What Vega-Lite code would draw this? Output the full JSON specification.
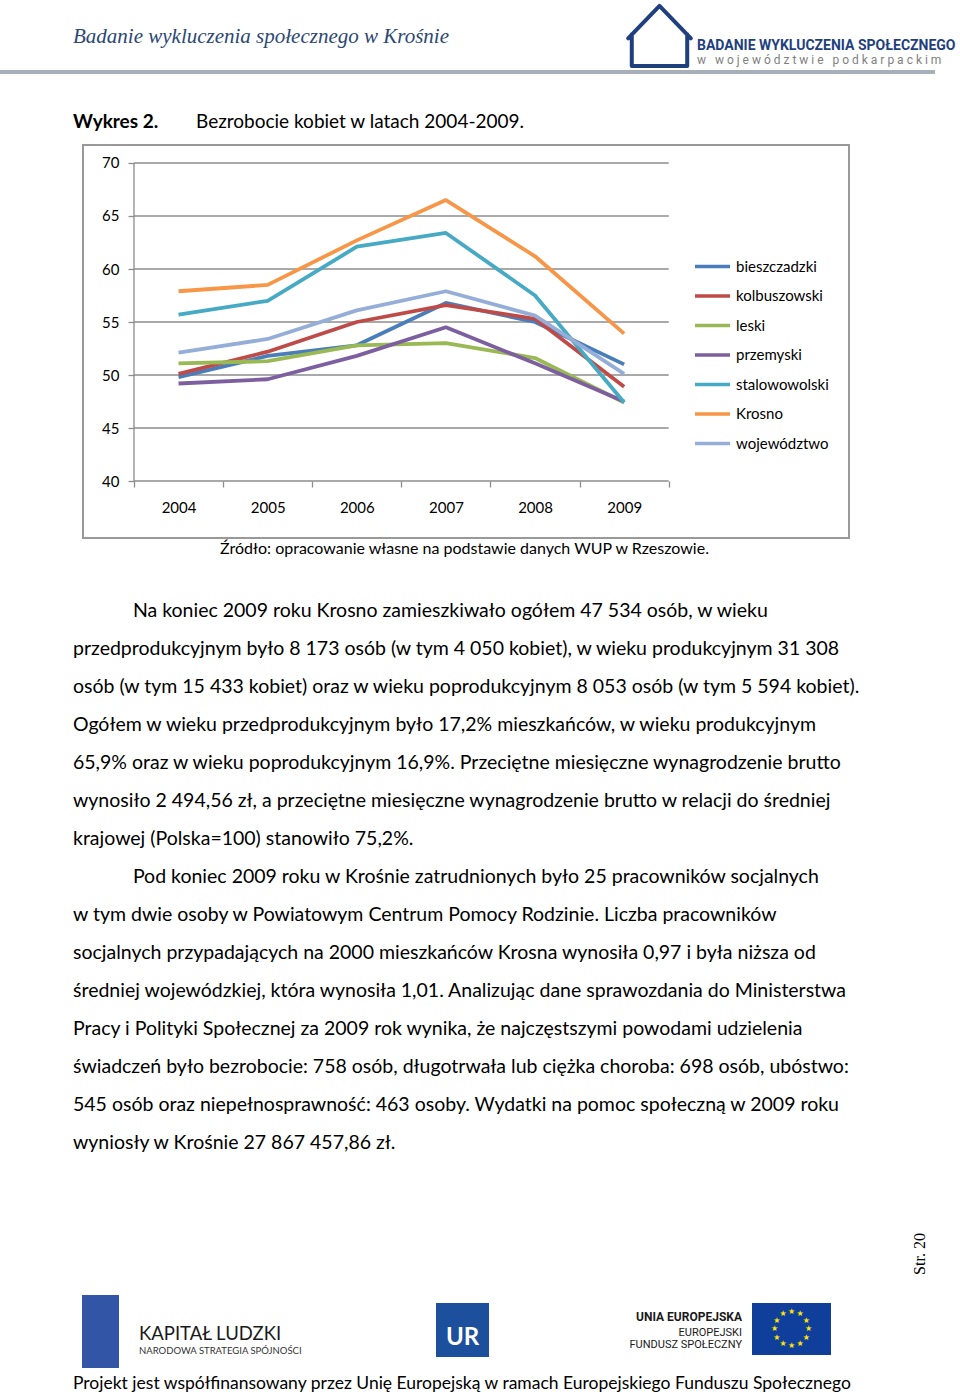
{
  "$schema": "https://vega.github.io/schema/vega-lite/v6.json",
  "padding": 0,
  "background": "white",
  "spacing": 0,
  "config": {
    "view": {"stroke": null},
    "concat": {"spacing": 0},
    "font": "Lato",
    "axis": {"labelFont": "Lato"},
    "legend": {"labelFont": "Lato"}
  },
  "vconcat": [
    {
      "hconcat": [
        {
          "width": 622, "height": 26, "data": {"values": []}, "mark": "text",
          "title": {"text": "Badanie wykluczenia społecznego w Krośnie", "orient": "bottom", "anchor": "start", "frame": "group", "offset": 0, "dx": 73, "font": "Liberation Serif", "fontStyle": "italic", "fontWeight": "normal", "fontSize": 21, "color": "#2B4874"}
        },
        {
          "width": 75, "height": 70,
          "data": {"values": [{"logo": "dom"}]},
          "mark": {"type": "point", "shape": "M-0.95,0.1L0,-0.88L0.95,0.1M-0.84,-0.02L-0.84,0.94L0.84,0.94L0.84,-0.02", "size": 4356, "filled": false, "stroke": "#1F3F7F", "strokeWidth": 4, "strokeJoin": "round", "strokeCap": "round", "opacity": 1}
        },
        {
          "width": 263, "height": 39, "data": {"values": []}, "mark": "text",
          "title": {"text": "BADANIE WYKLUCZENIA SPOŁECZNEGO", "subtitle": "w\u00a0\u00a0 w o j e w ó d z t w i e\u00a0\u00a0 p o d k a r p a c k i m", "orient": "bottom", "anchor": "start", "frame": "group", "offset": 0, "dx": 0, "font": "Roboto", "fontWeight": "bold", "fontSize": 14, "color": "#1F3F7F", "subtitleFont": "Roboto", "subtitleFontSize": 12, "subtitleColor": "#7F7F7F", "subtitlePadding": 2}
        },
        {"width": 1, "height": 70, "data": {"values": []}, "mark": "text"}
      ]
    },
    {"width": 935, "height": 4, "data": {"values": []}, "mark": "text", "view": {"fill": "#A7AFB8", "stroke": null}},
    {
      "hconcat": [
        {
          "width": 196, "height": 39, "data": {"values": []}, "mark": "text",
          "title": {"text": "Wykres 2.", "orient": "bottom", "anchor": "start", "frame": "group", "offset": 0, "dx": 73, "font": "Lato", "fontWeight": "bold", "fontSize": 19, "color": "#000000"}
        },
        {
          "width": 600, "height": 39, "data": {"values": []}, "mark": "text",
          "title": {"text": "Bezrobocie kobiet w latach 2004-2009.", "orient": "bottom", "anchor": "start", "frame": "group", "offset": 0, "dx": 0, "font": "Lato", "fontWeight": "normal", "fontSize": 19, "color": "#000000"}
        },
        {"width": 1, "height": 70, "data": {"values": []}, "mark": "text"}
      ]
    },
    {
      "hconcat": [
        {"width": 82, "height": 1, "data": {"values": []}, "mark": "text"},
        {
          "width": 766, "height": 393,
          "view": {"stroke": "#999999", "strokeWidth": 2, "fill": "white"},
          "layer": [
            {
              "data": {"values": [{"v": 40}, {"v": 45}, {"v": 50}, {"v": 55}, {"v": 60}, {"v": 65}, {"v": 70}]},
              "mark": {"type": "rule", "color": "#8C8C8C", "strokeWidth": 1.3},
              "encoding": {
                "y": {"field": "v", "type": "quantitative", "title": null,
                  "scale": {"domain": [34.623, 71.698], "nice": false, "zero": false},
                  "axis": {"orient": "left", "offset": -51, "values": [40, 45, 50, 55, 60, 65, 70], "domain": false, "grid": false, "ticks": true, "tickSize": 6, "tickColor": "#8C8C8C", "tickWidth": 1.3, "labelFontSize": 15, "labelPadding": 9, "labelColor": "#000000", "title": null}},
                "x": {"datum": 2003.5, "type": "quantitative", "title": null,
                  "scale": {"domain": [2002.928, 2011.523], "nice": false, "zero": false},
                  "axis": {"orient": "bottom", "offset": -57, "values": [2003.5, 2004.5, 2005.5, 2006.5, 2007.5, 2008.5, 2009.5], "domain": false, "grid": false, "ticks": true, "tickSize": 6, "tickColor": "#8C8C8C", "tickWidth": 1.3, "labelExpr": "datum.value < 2009 ? format(datum.value + 0.5, 'd') : ''", "labelOffset": 44.6, "labelPadding": 13, "labelFlush": false, "labelOverlap": false, "labelBound": false, "labelFontSize": 15, "labelColor": "#000000", "title": null}},
                "x2": {"datum": 2009.5}
              }
            },
            {
              "data": {"values": [{"os": "y"}]},
              "mark": {"type": "rule", "color": "#8C8C8C", "strokeWidth": 1.3},
              "encoding": {
                "x": {"datum": 2003.5, "type": "quantitative", "title": null},
                "y": {"datum": 40, "type": "quantitative", "title": null},
                "y2": {"datum": 70}
              }
            },
            {
              "data": {"values": [
                {"series": "bieszczadzki", "year": 2004, "value": 49.8},
                {"series": "bieszczadzki", "year": 2005, "value": 51.8},
                {"series": "bieszczadzki", "year": 2006, "value": 52.8},
                {"series": "bieszczadzki", "year": 2007, "value": 56.8},
                {"series": "bieszczadzki", "year": 2008, "value": 55.0},
                {"series": "bieszczadzki", "year": 2009, "value": 51.0},
                {"series": "kolbuszowski", "year": 2004, "value": 50.1},
                {"series": "kolbuszowski", "year": 2005, "value": 52.2},
                {"series": "kolbuszowski", "year": 2006, "value": 55.0},
                {"series": "kolbuszowski", "year": 2007, "value": 56.6},
                {"series": "kolbuszowski", "year": 2008, "value": 55.3},
                {"series": "kolbuszowski", "year": 2009, "value": 48.9},
                {"series": "leski", "year": 2004, "value": 51.1},
                {"series": "leski", "year": 2005, "value": 51.3},
                {"series": "leski", "year": 2006, "value": 52.8},
                {"series": "leski", "year": 2007, "value": 53.0},
                {"series": "leski", "year": 2008, "value": 51.6},
                {"series": "leski", "year": 2009, "value": 47.4},
                {"series": "przemyski", "year": 2004, "value": 49.2},
                {"series": "przemyski", "year": 2005, "value": 49.6},
                {"series": "przemyski", "year": 2006, "value": 51.8},
                {"series": "przemyski", "year": 2007, "value": 54.5},
                {"series": "przemyski", "year": 2008, "value": 51.1},
                {"series": "przemyski", "year": 2009, "value": 47.5},
                {"series": "stalowowolski", "year": 2004, "value": 55.7},
                {"series": "stalowowolski", "year": 2005, "value": 57.0},
                {"series": "stalowowolski", "year": 2006, "value": 62.1},
                {"series": "stalowowolski", "year": 2007, "value": 63.4},
                {"series": "stalowowolski", "year": 2008, "value": 57.5},
                {"series": "stalowowolski", "year": 2009, "value": 47.4},
                {"series": "Krosno", "year": 2004, "value": 57.9},
                {"series": "Krosno", "year": 2005, "value": 58.5},
                {"series": "Krosno", "year": 2006, "value": 62.7},
                {"series": "Krosno", "year": 2007, "value": 66.5},
                {"series": "Krosno", "year": 2008, "value": 61.2},
                {"series": "Krosno", "year": 2009, "value": 53.9},
                {"series": "województwo", "year": 2004, "value": 52.1},
                {"series": "województwo", "year": 2005, "value": 53.4},
                {"series": "województwo", "year": 2006, "value": 56.1},
                {"series": "województwo", "year": 2007, "value": 57.9},
                {"series": "województwo", "year": 2008, "value": 55.6},
                {"series": "województwo", "year": 2009, "value": 50.1}
              ]},
              "mark": {"type": "line", "strokeWidth": 3.8, "strokeJoin": "round"},
              "encoding": {
                "x": {"field": "year", "type": "quantitative", "title": null},
                "y": {"field": "value", "type": "quantitative", "title": null},
                "color": {"field": "series", "type": "nominal",
                  "scale": {"domain": ["bieszczadzki", "kolbuszowski", "leski", "przemyski", "stalowowolski", "Krosno", "województwo"],
                            "range": ["#4A7EBB", "#BE4B48", "#98B954", "#7D5FA0", "#46AAC5", "#F79646", "#95AED8"]},
                  "legend": {"orient": "none", "legendX": 693, "legendY": 247, "title": null, "symbolType": "stroke", "symbolSize": 1225, "symbolStrokeWidth": 3.5, "labelFontSize": 15, "labelColor": "#000000", "labelOffset": 4, "rowPadding": 1.5, "padding": 0}}
              }
            }
          ]
        }
      ]
    },
    {
      "hconcat": [
        {
          "width": 929, "height": 2, "data": {"values": []}, "mark": "text",
          "title": {"text": "Źródło: opracowanie własne na podstawie danych WUP w Rzeszowie.", "orient": "bottom", "anchor": "middle", "frame": "group", "offset": 0, "font": "Lato", "fontWeight": "normal", "fontSize": 16, "color": "#000000"}
        },
        {"width": 1, "height": 51, "data": {"values": []}, "mark": "text"}
      ]
    },
    {
      "hconcat": [
        {
          "width": 929, "height": 12, "data": {"values": []}, "mark": "text",
          "title": {"text": [
            "\u200b\u00a0\u00a0\u00a0\u00a0\u00a0\u00a0\u00a0\u00a0\u00a0\u00a0\u00a0\u00a0Na koniec 2009 roku Krosno zamieszkiwało ogółem 47 534 osób, w wieku",
            "przedprodukcyjnym było  8 173 osób (w tym 4 050 kobiet), w wieku produkcyjnym 31 308",
            "osób (w tym 15 433 kobiet) oraz w wieku poprodukcyjnym 8 053 osób (w tym 5 594 kobiet).",
            "Ogółem w wieku przedprodukcyjnym było 17,2% mieszkańców, w wieku produkcyjnym",
            "65,9% oraz w wieku poprodukcyjnym 16,9%. Przeciętne miesięczne wynagrodzenie brutto",
            "wynosiło 2 494,56 zł, a przeciętne miesięczne wynagrodzenie brutto w relacji do średniej",
            "krajowej (Polska=100) stanowiło 75,2%.",
            "\u200b\u00a0\u00a0\u00a0\u00a0\u00a0\u00a0\u00a0\u00a0\u00a0\u00a0\u00a0\u00a0Pod koniec 2009 roku w Krośnie zatrudnionych było 25 pracowników socjalnych",
            "w tym dwie osoby w Powiatowym Centrum Pomocy Rodzinie. Liczba pracowników",
            "socjalnych przypadających na 2000 mieszkańców Krosna wynosiła 0,97 i była niższa od",
            "średniej wojewódzkiej, która wynosiła 1,01. Analizując dane sprawozdania do Ministerstwa",
            "Pracy i Polityki Społecznej za 2009 rok wynika, że najczęstszymi powodami udzielenia",
            "świadczeń było bezrobocie: 758 osób, długotrwała lub ciężka choroba: 698 osób, ubóstwo:",
            "545 osób oraz niepełnosprawność: 463 osoby. Wydatki na pomoc społeczną w 2009 roku",
            "wyniosły w Krośnie 27 867 457,86 zł."
          ], "orient": "bottom", "anchor": "start", "frame": "group", "offset": 0, "dx": 73, "font": "Lato", "fontWeight": "normal", "fontSize": 19.5, "lineHeight": 38, "color": "#000000"}
        },
        {"width": 1, "height": 639, "data": {"values": []}, "mark": "text"}
      ]
    },
    {
      "hconcat": [
        {"width": 912, "height": 66, "data": {"values": []}, "mark": "text"},
        {
          "width": 1, "height": 50, "data": {"values": []}, "mark": "text",
          "title": {"text": "Str. 20", "orient": "left", "anchor": "middle", "frame": "group", "offset": 0, "font": "Liberation Serif", "fontWeight": "normal", "fontSize": 16, "color": "#000000"}
        }
      ]
    },
    {
      "hconcat": [
        {"width": 82, "height": 77, "data": {"values": []}, "mark": "text"},
        {"width": 37, "height": 73, "data": {"values": []}, "mark": "text", "view": {"fill": "#3355A5", "stroke": null}},
        {
          "width": 317, "height": 30, "data": {"values": []}, "mark": "text",
          "title": {"text": "KAPITAŁ LUDZKI", "subtitle": "NARODOWA STRATEGIA SPÓJNOŚCI", "orient": "bottom", "anchor": "start", "frame": "group", "offset": 0, "dx": 20, "font": "Lato", "fontWeight": "normal", "fontSize": 18.5, "color": "#1A1A1A", "subtitleFont": "Lato", "subtitleFontSize": 9.5, "subtitleColor": "#333333", "subtitlePadding": 2}
        },
        {
          "vconcat": [
            {"width": 53, "height": 8, "data": {"values": []}, "mark": "text"},
            {"width": 53, "height": 54, "view": {"fill": "#1C4F9C", "stroke": null},
             "data": {"values": [{"t": "UR"}]},
             "mark": {"type": "text", "font": "Lato", "fontWeight": "bold", "fontSize": 24, "color": "white", "dy": 8},
             "encoding": {"text": {"field": "t", "type": "nominal"}}}
          ]
        },
        {
          "width": 263, "height": 16.5, "data": {"values": []}, "mark": "text",
          "title": {"text": "UNIA EUROPEJSKA", "subtitle": ["EUROPEJSKI", "FUNDUSZ SPOŁECZNY"], "orient": "bottom", "anchor": "end", "frame": "group", "offset": 0, "dx": -10, "font": "Roboto", "fontWeight": "bold", "fontSize": 12, "color": "#1A1A1A", "subtitleFont": "Roboto", "subtitleFontSize": 11, "subtitleLineHeight": 12, "subtitleColor": "#1A1A1A", "subtitlePadding": 3}
        },
        {
          "vconcat": [
            {"width": 79, "height": 8, "data": {"values": []}, "mark": "text"},
            {"width": 79, "height": 52, "view": {"fill": "#0F3F9A", "stroke": null},
             "data": {"values": [{"n": 0}, {"n": 1}, {"n": 2}, {"n": 3}, {"n": 4}, {"n": 5}, {"n": 6}, {"n": 7}, {"n": 8}, {"n": 9}, {"n": 10}, {"n": 11}]},
             "mark": {"type": "text", "text": "★", "font": "DejaVu Sans", "fontSize": 8, "color": "#FFE400"},
             "encoding": {"theta": {"field": "n", "type": "quantitative", "stack": false, "scale": {"domain": [0, 12]}}, "radius": {"value": 17}}}
          ]
        }
      ]
    },
    {
      "width": 929, "height": 3, "data": {"values": []}, "mark": "text",
      "title": {"text": "Projekt jest współfinansowany przez Unię Europejską w ramach Europejskiego Funduszu Społecznego", "orient": "bottom", "anchor": "start", "frame": "group", "offset": 0, "dx": 73, "font": "Lato", "fontWeight": "normal", "fontSize": 17.5, "color": "#000000"}
    }
  ]
}
